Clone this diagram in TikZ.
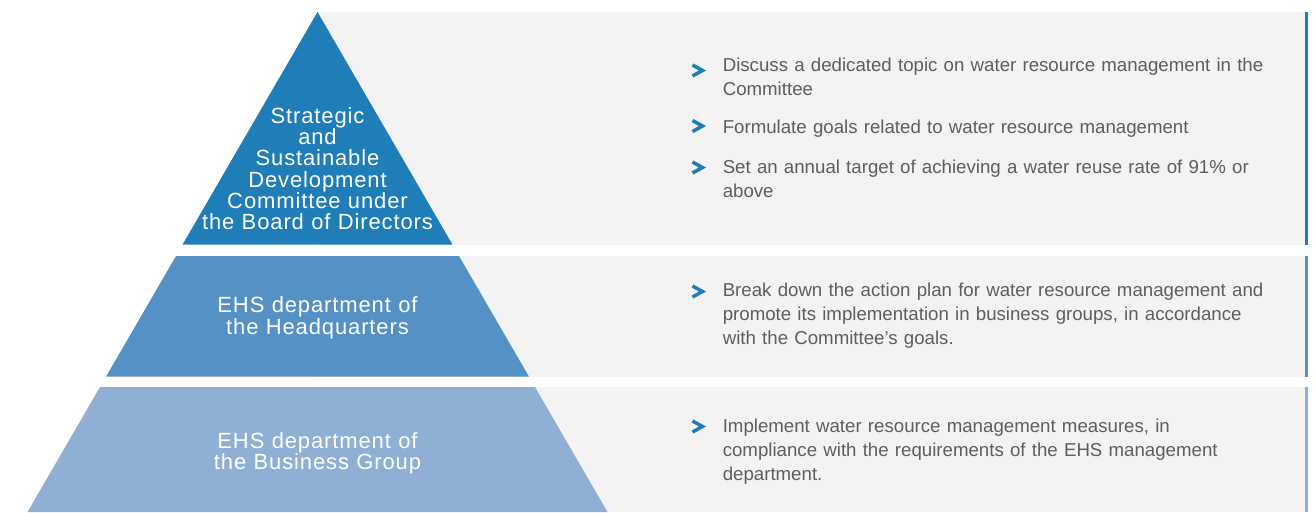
\documentclass[tikz,border=0pt]{standalone}
\usepackage{fontspec}
\setmainfont{Liberation Sans}
\newfontfamily\tierfont[LetterSpace=4]{Liberation Sans}
\definecolor{topblue}{HTML}{1F7DB8}
\definecolor{midblue}{HTML}{5591C4}
\definecolor{lowblue}{HTML}{8FAFD5}
\definecolor{panelgrey}{HTML}{F3F3F3}
\definecolor{bodygrey}{HTML}{5E5E5E}
\begin{document}
\begin{tikzpicture}[x=0.75pt,y=-0.75pt,
	tier/.style={text=white,inner sep=0pt,text width=300pt,align=center,anchor=base,font=\tierfont\fontsize{16.5pt}{16pt}\selectfont},
	duty/.style={text=bodygrey,inner sep=0pt,text width=480pt,align=left,anchor=base west,font=\fontsize{14pt}{18pt}\selectfont},
	chevron/.style={draw=topblue,line width=2.6pt,miter limit=10}]
			\useasboundingbox (0,0) rectangle (1316,512);
			% grey panels and their edge lines
			\fill[panelgrey] (318,12) rectangle (1305,244.5);
			\fill[panelgrey] (318,256) rectangle (1305,376.5);
			\fill[panelgrey] (318,387) rectangle (1305,512);
			\fill[topblue] (1305,12) rectangle (1307.5,244.5);
			\fill[midblue] (1305,256) rectangle (1307.5,376.5);
			\fill[lowblue] (1305,387) rectangle (1307.5,512);
			% pyramid
			\fill[topblue] (317.5,12) -- (452.4,244.5) -- (182.6,244.5) -- cycle;
			\fill[midblue] (176,256) -- (459,256) -- (528.9,376.5) -- (106.1,376.5) -- cycle;
			\fill[lowblue] (100,387) -- (535,387) -- (607.5,512) -- (27.5,512) -- cycle;
			\node[tier] (strategic) at (317.5,123.3) {Strategic\\and\\Sustainable\\Development\\Committee under\\the Board of Directors};
			\node[tier] (hq) at (317.5,312.7) {EHS department of\\the Headquarters};
			\node[tier] (bg) at (317.5,448.3) {EHS department of\\the Business Group};
			% bullets
			\foreach \c in {70.5,126,167.5,291.5,426.5}
				\draw[chevron] (692.5,\c-5.5) -- (702.5,\c) -- (692.5,\c+5.5);
			\node[duty] (topic) at (722.5,71.7) {Discuss a dedicated topic on water resource management in the\\Committee};
			\node[duty] (goals) at (722.5,133.3) {Formulate goals related to water resource management};
			\node[duty] (target) at (722.5,173.3) {Set an annual target of achieving a water reuse rate of 91\% or\\above};
			\node[duty] (plan) at (722.5,296.7) {Break down the action plan for water resource management and\\promote its implementation in business groups, in accordance\\with the Committee’s goals.};
			\node[duty] (measures) at (722.5,432.3) {Implement water resource management measures, in\\compliance with the requirements of the EHS management\\department.};
		\end{tikzpicture}
\end{document}
